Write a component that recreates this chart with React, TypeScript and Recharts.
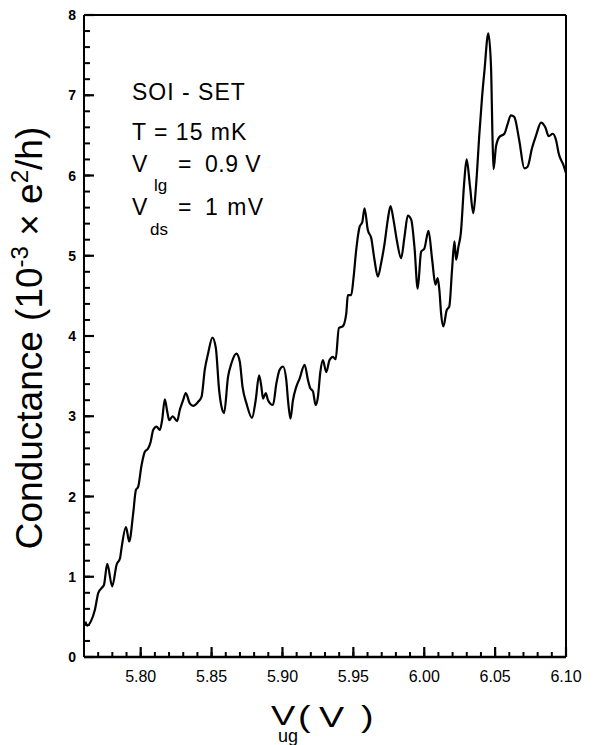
import React from "react";
import { LineChart, Line, XAxis, YAxis, ReferenceLine } from "recharts";

// Upper-gate voltage V_ug (V)
const vug = [
  5.7610, 5.7623, 5.7650, 5.7677, 5.7701, 5.7725, 5.7741, 5.7764, 5.7799, 5.7830,
  5.7854, 5.7865, 5.7896, 5.7919, 5.7947, 5.7966, 5.7982, 5.8006, 5.8030, 5.8053,
  5.8070, 5.8088, 5.8112, 5.8135, 5.8151, 5.8170, 5.8187, 5.8201, 5.8225, 5.8257,
  5.8276, 5.8299, 5.8318, 5.8346, 5.8370, 5.8405, 5.8429, 5.8452, 5.8475, 5.8506,
  5.8530, 5.8553, 5.8570, 5.8588, 5.8616, 5.8640, 5.8675, 5.8699, 5.8718, 5.8746,
  5.8785, 5.8811, 5.8835, 5.8851, 5.8863, 5.8882, 5.8898, 5.8933, 5.8957, 5.8980,
  5.9004, 5.9027, 5.9039, 5.9056, 5.9074, 5.9098, 5.9121, 5.9156, 5.9180, 5.9196,
  5.9215, 5.9234, 5.9250, 5.9267, 5.9285, 5.9309, 5.9332, 5.9356, 5.9375, 5.9398,
  5.9425, 5.9450, 5.9461, 5.9485, 5.9501, 5.9520, 5.9544, 5.9563, 5.9579, 5.9602,
  5.9626, 5.9649, 5.9673, 5.9696, 5.9720, 5.9743, 5.9762, 5.9783, 5.9806, 5.9837,
  5.9861, 5.9884, 5.9908, 5.9931, 5.9954, 5.9978, 6.0001, 6.0030, 6.0056, 6.0079,
  6.0095, 6.0107, 6.0119, 6.0135, 6.0158, 6.0177, 6.0196, 6.0213, 6.0225, 6.0241,
  6.0258, 6.0283, 6.0299, 6.0323, 6.0346, 6.0365, 6.0389, 6.0408, 6.0424, 6.0452,
  6.0471, 6.0482, 6.0489, 6.0506, 6.0530, 6.0565, 6.0588, 6.0611, 6.0635, 6.0670,
  6.0706, 6.0729, 6.0760, 6.0789, 6.0824, 6.0854, 6.0878, 6.0906, 6.0930, 6.0949,
  6.0982, 6.1000,
];

// Conductance (10^-3 e^2/h)
const conductance = [
  0.44, 0.39, 0.45, 0.59, 0.80, 0.86, 0.90, 1.16, 0.88, 1.15,
  1.23, 1.36, 1.62, 1.44, 1.79, 2.08, 2.12, 2.39, 2.56, 2.60,
  2.68, 2.83, 2.87, 2.83, 2.95, 3.21, 3.06, 2.95, 3.00, 2.94,
  3.08, 3.20, 3.29, 3.16, 3.13, 3.18, 3.24, 3.58, 3.78, 3.98,
  3.85, 3.33, 3.12, 3.04, 3.49, 3.66, 3.78, 3.68, 3.37, 3.16,
  2.98, 3.20, 3.51, 3.37, 3.22, 3.29, 3.20, 3.14, 3.41, 3.58,
  3.62, 3.45, 3.20, 2.97, 3.20, 3.37, 3.47, 3.64, 3.45, 3.35,
  3.31, 3.14, 3.24, 3.55, 3.70, 3.55, 3.70, 3.74, 3.71, 4.10,
  4.12, 4.28, 4.51, 4.51, 4.72, 5.07, 5.36, 5.42, 5.59, 5.32,
  5.22, 4.95, 4.74, 4.91, 5.15, 5.45, 5.62, 5.45, 5.20, 4.97,
  5.24, 5.50, 5.45, 5.11, 4.59, 5.05, 5.09, 5.31, 4.95, 4.64,
  4.72, 4.57, 4.28, 4.12, 4.32, 4.37, 4.82, 5.18, 4.95, 5.11,
  5.28, 5.94, 6.20, 5.86, 5.53, 5.86, 6.52, 6.98, 7.29, 7.77,
  7.36, 6.44, 6.08, 6.36, 6.48, 6.52, 6.64, 6.75, 6.73, 6.44,
  6.09, 6.11, 6.34, 6.50, 6.66, 6.60, 6.49, 6.52, 6.44, 6.27,
  6.13, 6.03,
];

// x ticks every 0.01 V (labels on multiples of 0.05 from 5.80)
const xTicks = [
  5.76, 5.77, 5.78, 5.79, 5.80, 5.81, 5.82, 5.83, 5.84, 5.85, 5.86, 5.87,
  5.88, 5.89, 5.90, 5.91, 5.92, 5.93, 5.94, 5.95, 5.96, 5.97, 5.98, 5.99,
  6.00, 6.01, 6.02, 6.03, 6.04, 6.05, 6.06, 6.07, 6.08, 6.09, 6.10,
];
const xLabels = ["5.80", "5.85", "5.90", "5.95", "6.00", "6.05", "6.10"];

// y ticks every 0.2 (labels on integers)
const yTicks = [
  0, 0.2, 0.4, 0.6, 0.8, 1, 1.2, 1.4, 1.6, 1.8, 2, 2.2, 2.4, 2.6, 2.8, 3,
  3.2, 3.4, 3.6, 3.8, 4, 4.2, 4.4, 4.6, 4.8, 5, 5.2, 5.4, 5.6, 5.8, 6, 6.2,
  6.4, 6.6, 6.8, 7, 7.2, 7.4, 7.6, 7.8, 8,
];
const yLabels = ["0", "1", "2", "3", "4", "5", "6", "7", "8"];

const X_MIN = 5.76;
const X_MAX = 6.1;
const Y_MIN = 0;
const Y_MAX = 8;

const data = vug.map((v, i) => ({ v, g: conductance[i] }));

const FONT = "'Liberation Sans', Arial, Helvetica, sans-serif";

const isYMajor = (v: number) => Math.abs(v - Math.round(v)) < 1e-6;
const isXMajor = (v: number) => Math.round(v * 100) % 5 === 0;

// native tick lines (inward, via negative tickSize) give the minor length;
// the custom renderers extend the major ticks and write the labels.
const YTick = (props: any) => {
  const { x, y, payload } = props;
  const v = payload.value as number;
  const label = String(Math.round(v));
  if (!(isYMajor(v) && yLabels.includes(label))) return <g />;
  return (
    <g>
      <path d={`M${x},${y}h10`} stroke="#000000" strokeWidth={2.2} fill="none" />
      <text x={x - 8} y={y + 5} textAnchor="end" fontSize={14} fontWeight="bold" fontFamily={FONT} fill="#000000">
        {label}
      </text>
    </g>
  );
};

const BottomTick = (props: any) => {
  const { x, y, payload } = props;
  const v = payload.value as number;
  const s = v.toFixed(2);
  return (
    <g>
      {isXMajor(v) && <path d={`M${x},${y}v-10`} stroke="#000000" strokeWidth={2.2} fill="none" />}
      {xLabels.includes(s) && (
        <text x={x} y={y + 25} textAnchor="middle" fontSize={16} fontFamily={FONT} fill="#000000">
          {s}
        </text>
      )}
    </g>
  );
};

const TopTick = (props: any) => {
  const { x, y, payload } = props;
  const v = payload.value as number;
  if (!isXMajor(v)) return <g />;
  return <path d={`M${x},${y}v8`} stroke="#000000" strokeWidth={2} fill="none" />;
};

const Annotations = () => (
  <svg
    width={595}
    height={745}
    style={{ position: "absolute", left: 0, top: 0, pointerEvents: "none" }}
  >
    <g fontFamily={FONT} fill="#000">
      <text x={132} y={100} fontSize={23} letterSpacing={1}>SOI - SET</text>
      <text x={132} y={140} fontSize={23} letterSpacing={1}>T = 15 mK</text>
      <text x={132} y={172} fontSize={23}>V</text>
      <text x={154} y={191} fontSize={17}>lg</text>
      <text x={178} y={172} fontSize={23}>=</text>
      <text x={205} y={172} fontSize={23} letterSpacing={0.5}>0.9 V</text>
      <text x={132} y={215} fontSize={23}>V</text>
      <text x={150} y={235} fontSize={17}>ds</text>
      <text x={178} y={215} fontSize={23}>=</text>
      <text x={205} y={215} fontSize={23} letterSpacing={1.5}>1 mV</text>

      <text transform="translate(271,725) scale(1.3,1)" fontSize={28}>V</text>
      <text x={278} y={742} fontSize={18}>ug</text>
      <text transform="translate(298,727) scale(1.3,1)" fontSize={29}>(</text>
      <text transform="translate(319,727) scale(1.3,1)" fontSize={29}>V</text>
      <text transform="translate(361,727) scale(1.3,1)" fontSize={29}>)</text>

      <text transform="translate(42,338) rotate(-90)" textAnchor="middle" fontSize={37}>
        Conductance (10
        <tspan dy={-14} fontSize={24}>-3</tspan>
        <tspan dy={14}> × e</tspan>
        <tspan dy={-14} fontSize={24}>2</tspan>
        <tspan dy={14}>/h)</tspan>
      </text>
    </g>
  </svg>
);

export default function App() {
  return (
    <div style={{ position: "absolute", left: 0, top: 0, width: 595, height: 745, background: "#fff" }}>
      <LineChart width={595} height={745} data={data} margin={{ top: 15, right: 29, bottom: 48, left: 24 }}>
        <XAxis
          dataKey="v"
          type="number"
          domain={[X_MIN, X_MAX]}
          ticks={xTicks}
          interval={0}
          height={40}
          tickSize={-5}
          tickMargin={5}
          tickLine={{ stroke: "#000000", strokeWidth: 2 }}
          tick={BottomTick}
          axisLine={{ stroke: "#000000", strokeWidth: 2.5 }}
        />
        <XAxis
          xAxisId="top"
          orientation="top"
          dataKey="v"
          type="number"
          domain={[X_MIN, X_MAX]}
          ticks={xTicks}
          interval={0}
          height={0}
          tickSize={-4}
          tickMargin={4}
          tickLine={{ stroke: "#000000", strokeWidth: 2 }}
          tick={TopTick}
          axisLine={{ stroke: "#000000", strokeWidth: 1.8 }}
        />
        <YAxis
          type="number"
          domain={[Y_MIN, Y_MAX]}
          ticks={yTicks}
          interval={0}
          width={60}
          tickSize={-6}
          tickMargin={6}
          tickLine={{ stroke: "#000000", strokeWidth: 2 }}
          tick={YTick}
          axisLine={{ stroke: "#000000", strokeWidth: 2 }}
        />
        {/* frame: top and right */}
        <ReferenceLine y={Y_MAX} stroke="#000000" strokeWidth={1.8} />
        <ReferenceLine x={X_MAX} stroke="#000000" strokeWidth={2} />
        <Line
          type="monotone"
          dataKey="g"
          stroke="#000000"
          strokeWidth={2.2}
          dot={false}
          isAnimationActive={false}
        />
      </LineChart>
      <Annotations />
    </div>
  );
}
